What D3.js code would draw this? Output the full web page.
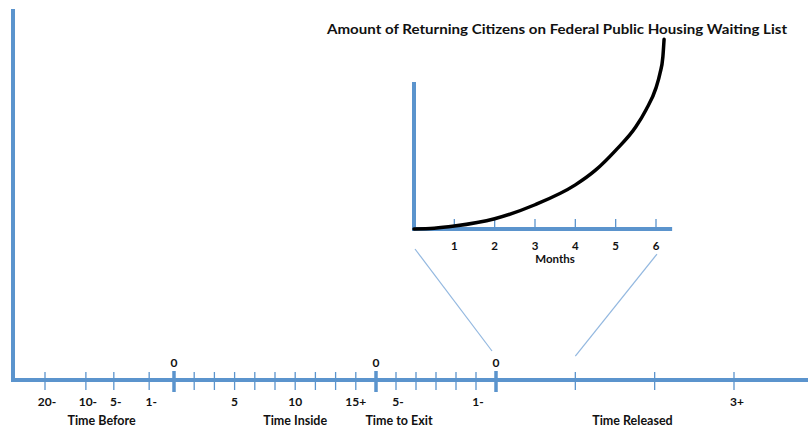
<!DOCTYPE html>
<html><head><meta charset="utf-8">
<script src="https://cdn.jsdelivr.net/npm/d3@7"></script>
<style>html,body{margin:0;padding:0;background:#fff;}svg{display:block;}text{font-family:Lato,"Open Sans",sans-serif;font-weight:bold;fill:#111;}</style>
</head><body>
<script>
// ---- data ----
const title = "Amount of Returning Citizens on Federal Public Housing Waiting List";
const beforeYears = [20, 10, 5, 1];
const beforeLabels = ["20-", "10-", "5-", "1-"];
const insideSteps = [1, 2, 3, 4, 5, 6, 7, 8, 9];
const insideLabels = {3: "5", 6: "10", 9: "15+"};
const exitYears = [5, 4, 3, 2, 1];
const exitLabels = {5: "5-", 1: "1-"};
const releasedYears = [1, 2, 3];
const releasedLabels = {3: "3+"};
const zeroLabel = "0";
const segments = ["Time Before", "Time Inside", "Time to Exit", "Time Released"];
const months = [1, 2, 3, 4, 5, 6];
const curveMonths = [0, 0.5, 1, 2, 3, 4, 4.5, 5, 5.5, 5.75, 6, 6.1, 6.17, 6.2];
const curveValues = [0, 0.5, 2, 7, 16.5, 30, 40, 53.5, 69.5, 81, 96, 106, 117, 129];
const insetXLabel = "Months";

// ---- layout ----
const W = 808, H = 431;
const blue = "#5b94cd", light = "#93b8e0";
const svg = d3.select("body").append("svg").attr("width", W).attr("height", H);

const axisY = 380;
const xBefore = d3.scalePow().exponent(0.55).domain([0, 20]).range([174, 45]);
const xInside = d3.scaleLinear().domain([0, 10]).range([174, 376]);
const xExit = d3.scaleLinear().domain([6, 0]).range([376, 496]);
const xRel = d3.scaleLinear().domain([0, 3]).range([496, 734]);

// main axes
svg.append("line").attr("x1", 13).attr("x2", 13).attr("y1", 9).attr("y2", axisY + 2)
  .attr("stroke", blue).attr("stroke-width", 4);
svg.append("line").attr("x1", 11).attr("x2", W).attr("y1", axisY).attr("y2", axisY)
  .attr("stroke", blue).attr("stroke-width", 4);

function thinTick(x) {
  svg.append("line").attr("x1", x).attr("x2", x).attr("y1", axisY - 8).attr("y2", axisY + 10)
    .attr("stroke", blue).attr("stroke-width", 1.3);
}
function thickTick(x) {
  svg.append("line").attr("x1", x).attr("x2", x).attr("y1", axisY - 9).attr("y2", axisY + 12)
    .attr("stroke", blue).attr("stroke-width", 3.5);
  svg.append("text").attr("x", x).attr("y", 367).attr("text-anchor", "middle")
    .attr("font-size", 12).text(zeroLabel);
}
function lowLabel(x, t) {
  svg.append("text").attr("x", x).attr("y", 406).attr("text-anchor", "middle")
    .attr("font-size", 12).text(t);
}

beforeYears.forEach((y, i) => { thinTick(xBefore(y)); lowLabel(xBefore(y) + 2, beforeLabels[i]); });
insideSteps.forEach(s => { thinTick(xInside(s)); if (insideLabels[s]) lowLabel(xInside(s), insideLabels[s]); });
exitYears.forEach(y => { thinTick(xExit(y)); if (exitLabels[y]) lowLabel(xExit(y) + 2, exitLabels[y]); });
releasedYears.forEach(y => { thinTick(xRel(y)); if (releasedLabels[y]) lowLabel(xRel(y) + 3, releasedLabels[y]); });
[xInside(0), xInside(10), xExit(0)].forEach(thickTick);

const segPos = [xBefore(7), xInside(6), xExit(4.85), xRel(1.72)];
segments.forEach((s, i) => {
  svg.append("text").attr("x", segPos[i]).attr("y", 425).attr("text-anchor", "middle")
    .attr("font-size", 12.5).text(s);
});

// inset
const ix = d3.scaleLinear().domain([0, 6]).range([414, 656]);
const iy = d3.scaleLinear().domain([0, 100]).range([229, 82]);

// connector lines
svg.append("line").attr("x1", ix(0) + 1).attr("y1", 249).attr("x2", xExit(0) - 4).attr("y2", 351)
  .attr("stroke", light).attr("stroke-width", 1.2);
svg.append("line").attr("x1", ix(6) + 1).attr("y1", 254).attr("x2", xRel(1)).attr("y2", 356)
  .attr("stroke", light).attr("stroke-width", 1.2);

svg.append("line").attr("x1", ix(0)).attr("x2", ix(0)).attr("y1", iy(100)).attr("y2", iy(0) + 2)
  .attr("stroke", blue).attr("stroke-width", 4);
svg.append("line").attr("x1", ix(0) - 2).attr("x2", ix(6.4)).attr("y1", iy(0)).attr("y2", iy(0))
  .attr("stroke", blue).attr("stroke-width", 4);
months.forEach(m => {
  svg.append("line").attr("x1", ix(m)).attr("x2", ix(m)).attr("y1", iy(0) - 10).attr("y2", iy(0) + 1)
    .attr("stroke", blue).attr("stroke-width", 1.3);
  svg.append("text").attr("x", ix(m)).attr("y", 250).attr("text-anchor", "middle")
    .attr("font-size", 11.5).text(m);
});
svg.append("text").attr("x", 555).attr("y", 263).attr("text-anchor", "middle")
  .attr("font-size", 11.5).text(insetXLabel);

const line = d3.line().x(d => ix(d[0])).y(d => iy(d[1])).curve(d3.curveMonotoneX);
svg.append("path").datum(curveMonths.map((m, i) => [m, curveValues[i]]))
  .attr("d", line).attr("fill", "none").attr("stroke", "#000").attr("stroke-width", 3.5)
  .attr("stroke-linecap", "round");

svg.append("text").attr("x", 557).attr("y", 34).attr("text-anchor", "middle")
  .attr("font-size", 13).attr("textLength", 460).attr("lengthAdjust", "spacingAndGlyphs")
  .text(title);
</script>
</body></html>
